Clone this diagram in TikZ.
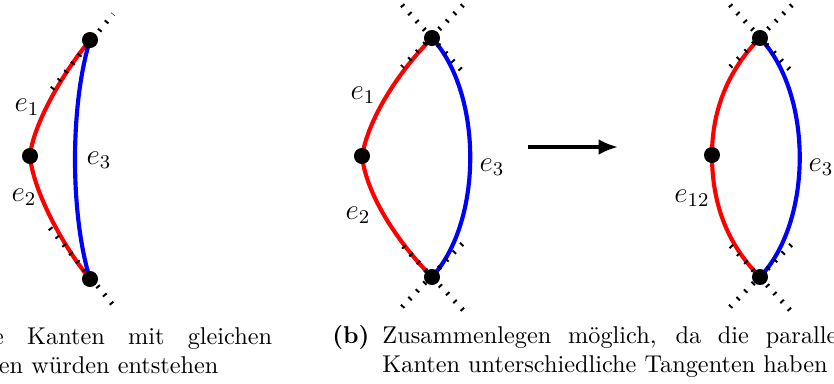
\documentclass[tikz,border=0pt]{standalone}
\usepackage{amsmath,amssymb}
\usepackage{tikz}
\usetikzlibrary{arrows.meta}

\tikzset{
  vertex/.style={circle,fill=black,inner sep=0pt,minimum size=6.6pt},
  redge/.style={red,line width=1.7pt},
  bedge/.style={blue,line width=1.7pt},
  tangent/.style={black,line width=2pt,dash pattern=on 0.8pt off 3.6pt},
  elabel/.style={font=\large,inner sep=0pt},
  captxt/.style={anchor=base west,inner sep=0pt}
}

\begin{document}
\begin{tikzpicture}[x=0.4115pt,y=-0.4115pt]
\useasboundingbox (0,0) rectangle (834,383);
\clip (0,0) rectangle (834,383);
% vertices (a)
\coordinate (a1) at (90,40);
\coordinate (a2) at (30,156);
\coordinate (a3) at (90,279);
% vertices (b), before
\coordinate (b1) at (432,38);
\coordinate (b2) at (362,156);
\coordinate (b3) at (432,277);
% vertices (b), after
\coordinate (c1) at (760,38);
\coordinate (c2) at (712,155);
\coordinate (c3) at (760,277);
% edges (a)
\draw[redge] (a2) .. controls (33,125) and (62,74) .. (a1);
\draw[redge] (a2) .. controls (33,190) and (62,245) .. (a3);
\draw[bedge] (a1) .. controls (70,105) and (70,214) .. (a3);
\draw[tangent] (a1) ++(-38,49) -- ++(61,-75);
\draw[tangent] (a3) ++(-40,-51) -- ++(63,77);
% edges (b), before
\draw[redge] (b2) .. controls (370,112) and (405,65) .. (b1);
\draw[redge] (b2) .. controls (367,200) and (405,250) .. (b3);
\draw[bedge] (b1) .. controls (483,94) and (483,221) .. (b3);
\draw[tangent] (b1) ++(-30,-33) -- ++(61,67);
\draw[tangent] (b1) ++(31,-33) -- ++(-61,62);
\draw[tangent] (b3) ++(-30,30) -- ++(61,-64);
\draw[tangent] (b3) ++(31,33) -- ++(-61,-65);
% arrow
\coordinate (arrs) at (528,147);
\coordinate (arre) at (618,147);
\draw[line width=1.4pt,-{Latex[length=8pt,width=6.5pt]}] (arrs) -- (arre);
% edges (b), after
\draw[redge] (c1) .. controls (725,73) and (712,115) .. (c2)
  .. controls (712,200) and (725,242) .. (c3);
\draw[bedge] (c1) .. controls (813,94) and (813,221) .. (c3);
\draw[tangent] (c1) ++(-30,-33) -- ++(62,67);
\draw[tangent] (c1) ++(32,-33) -- ++(-62,62);
\draw[tangent] (c3) ++(-30,30) -- ++(63,-64);
\draw[tangent] (c3) ++(30,33) -- ++(-60,-65);
% dots
\foreach \v in {a1,a2,a3,b1,b2,b3,c1,c2,c3}
  \node[vertex] (v\v) at (\v) {};
% labels
\node[elabel] (la1) at (27,107) {$e_1$};
\node[elabel] (la2) at (24,197) {$e_2$};
\node[elabel] (la3) at (99,160) {$e_3$};
\node[elabel] (lb1) at (363,95) {$e_1$};
\node[elabel] (lb2) at (358,215) {$e_2$};
\node[elabel] (lb3) at (492,167) {$e_3$};
\node[elabel] (lc12) at (692,198) {$e_{12}$};
\node[elabel] (lc3) at (821,167) {$e_3$};
% captions
\node[captxt] (capa) at (-88,344) {\parbox[t]{148pt}{\hyphenpenalty=10000
  Parallele Kanten mit gleichen Tangenten würden entstehen}};
\node[anchor=base east,inner sep=0pt,font=\bfseries] (tagb) at (370,343) {(b)};
\node[captxt] (capb) at (382,343) {\parbox[t]{200pt}{\hyphenpenalty=10000
  Zusammenlegen möglich, da die parallelen Kanten unterschiedliche Tangenten haben}};
\end{tikzpicture}
\end{document}
